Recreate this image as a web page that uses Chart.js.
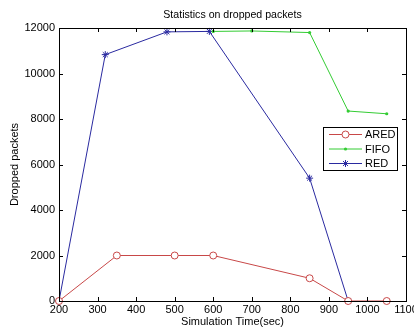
<!DOCTYPE html>
<html><head><meta charset="utf-8">
<script src="https://cdn.jsdelivr.net/npm/chart.js@4"></script>
<style>html,body{margin:0;padding:0;background:#fff}#w{width:414px;height:327px}</style>
</head><body><div id="w"><canvas id="c"></canvas></div>
<script>
const title = 'Statistics on dropped packets';
const xTitle = 'Simulation Time(sec)';
const yTitle = 'Dropped packets';
const aredX = [200, 350, 500, 600, 850, 950, 1050];
const aredY = [0, 2000, 2000, 2000, 1000, 0, 0];
const fifoX = [600, 700, 850, 950, 1050];
const fifoY = [11850, 11870, 11800, 8350, 8230];
const redX = [200, 320, 480, 590, 850, 950];
const redY = [0, 10830, 11830, 11850, 5400, 0];
const seriesNames = ['ARED', 'FIFO', 'RED'];
const colors = ['#c84848', '#33cc33', '#2a2aa0'];

const pts = (xs, ys) => xs.map((x, i) => ({x, y: ys[i]}));
const F = '"Liberation Sans", Arial, sans-serif';

const insideTicks = {
  id: 'insideTicks',
  afterDraw(chart) {
    const {ctx, chartArea: a, scales} = chart;
    ctx.save();
    ctx.strokeStyle = '#000'; ctx.lineWidth = 1;
    const L = 4;
    scales.x.ticks.forEach(t => {
      const px = Math.round(scales.x.getPixelForValue(t.value)) + 0.5;
      ctx.beginPath();
      ctx.moveTo(px, a.bottom); ctx.lineTo(px, a.bottom - L);
      ctx.moveTo(px, a.top); ctx.lineTo(px, a.top + L);
      ctx.stroke();
    });
    scales.y.ticks.forEach(t => {
      const py = Math.round(scales.y.getPixelForValue(t.value)) + 0.5;
      ctx.beginPath();
      ctx.moveTo(a.left, py); ctx.lineTo(a.left + L, py);
      ctx.moveTo(a.right, py); ctx.lineTo(a.right - L, py);
      ctx.stroke();
    });
    ctx.strokeRect(Math.round(a.left) + 0.5, Math.round(a.top) + 0.5, Math.round(a.right - a.left), Math.round(a.bottom - a.top));
    // title centred over plot area
    ctx.fillStyle = '#000';
    ctx.font = '10.6px ' + F;
    ctx.textAlign = 'center'; ctx.textBaseline = 'middle';
    ctx.fillText(title, (a.left + a.right) / 2, 15);
    ctx.textAlign = 'left';
    // legend inside
    const bx = 323, by = 127, bw = 74, bh = 43;
    ctx.fillStyle = '#fff';
    ctx.fillRect(bx, by, bw, bh);
    ctx.strokeRect(bx + 0.5, by + 0.5, bw, bh);
    ctx.font = '11px ' + F;
    ctx.textBaseline = 'middle';
    const rows = [134.5, 149, 163.5];
    seriesNames.forEach((n, i) => {
      const y = rows[i];
      ctx.strokeStyle = colors[i];
      ctx.beginPath(); ctx.moveTo(329, y); ctx.lineTo(362, y); ctx.stroke();
      ctx.fillStyle = colors[i];
      if (i === 0) { ctx.beginPath(); ctx.arc(345.5, y, 3.5, 0, Math.PI * 2); ctx.fillStyle = '#fff'; ctx.fill(); ctx.stroke(); }
      else if (i === 1) { ctx.beginPath(); ctx.arc(345.5, y, 1.6, 0, Math.PI * 2); ctx.fill(); }
      else {
        ctx.beginPath();
        for (let k = 0; k < 4; k++) { const an = k * Math.PI / 4; ctx.moveTo(345.5 - 3.5 * Math.cos(an), y - 3.5 * Math.sin(an)); ctx.lineTo(345.5 + 3.5 * Math.cos(an), y + 3.5 * Math.sin(an)); }
        ctx.stroke();
      }
      ctx.fillStyle = '#000';
      ctx.fillText(n, 365, y + 0.5);
    });
    ctx.restore();
  }
};

const plain = v => String(v);

new Chart(document.getElementById('c'), {
  type: 'line',
  data: {
    datasets: [
      {label: seriesNames[0], data: pts(aredX, aredY), borderColor: colors[0], backgroundColor: '#fff', borderWidth: 1, pointStyle: 'circle', pointRadius: 3.5, pointBorderWidth: 1, tension: 0},
      {label: seriesNames[1], data: pts(fifoX, fifoY), borderColor: colors[1], backgroundColor: colors[1], borderWidth: 1, pointStyle: 'circle', pointRadius: 1.6, pointBorderWidth: 0, tension: 0},
      {label: seriesNames[2], data: pts(redX, redY), borderColor: colors[2], backgroundColor: colors[2], borderWidth: 1, pointStyle: 'star', pointRadius: 3.5, pointBorderWidth: 1, tension: 0}
    ]
  },
  options: {
    responsive: true, maintainAspectRatio: false, animation: false,
    clip: false,
    layout: {padding: {left: 8, right: 8, top: 28, bottom: 0}},
    plugins: {
      legend: {display: false},
      tooltip: {enabled: false},
      title: {display: false}
    },
    scales: {
      x: {type: 'linear', min: 200, max: 1100,
        afterFit(s) { s.paddingRight = 0; s.paddingLeft = 0; s.height = 26; },
        ticks: {stepSize: 100, color: '#000', font: {family: F, size: 11}, padding: 2, maxRotation: 0, callback: plain},
        grid: {display: false, drawTicks: false}, border: {display: false},
        title: {display: true, text: xTitle, color: '#000', font: {family: F, size: 11, lineHeight: 1.0}, padding: {top: 0, bottom: 0}}},
      y: {min: 0, max: 12000,
        afterFit(s) { s.paddingTop = 0; s.paddingBottom = 0; s.width = 51; },
        ticks: {stepSize: 2000, color: '#000', font: {family: F, size: 11}, padding: 4, callback: plain},
        grid: {display: false, drawTicks: false}, border: {display: false},
        title: {display: true, text: yTitle, color: '#000', font: {family: F, size: 11}, padding: {top: 0, bottom: 0}}}
    }
  },
  plugins: [insideTicks]
});
</script></body></html>
